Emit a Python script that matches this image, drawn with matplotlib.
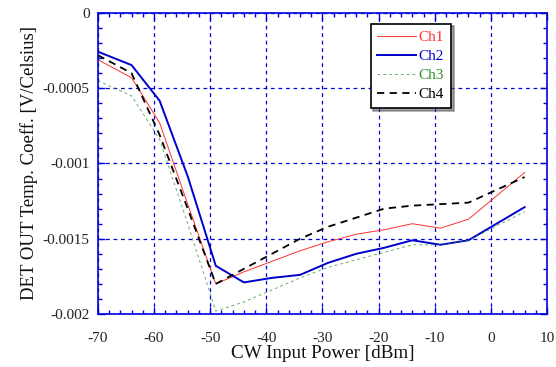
import numpy as np
import matplotlib
matplotlib.use('Agg')
import matplotlib.pyplot as plt
from matplotlib.ticker import MultipleLocator, FuncFormatter

plt.rcParams['font.family'] = ['Liberation Serif', 'DejaVu Serif']
plt.rcParams['axes.unicode_minus'] = False

# input power [dBm]
power = [-70, -64, -59, -54, -49, -44, -39, -34, -29, -24, -19, -14, -9, -4, 6]

ch1 = [-0.00031, -0.00043, -0.00073, -0.00127, -0.00180, -0.00172, -0.00165, -0.00158,
       -0.00152, -0.00147, -0.00144, -0.00140, -0.00143, -0.00137, -0.00106]
ch2 = [-0.000257, -0.000346, -0.000583, -0.001085, -0.00168, -0.00179, -0.00176, -0.00174,
       -0.00166, -0.00160, -0.00156, -0.00151, -0.00154, -0.00151, -0.00129]
ch3 = [-0.00045, -0.00055, -0.00084, -0.00140, -0.00198, -0.00192, -0.00184, -0.00176,
       -0.00169, -0.00164, -0.00159, -0.00154, -0.00154, -0.00151, -0.00132]
ch4 = [-0.00028, -0.00040, -0.00081, -0.00130, -0.00180, -0.00170, -0.00160, -0.00150,
       -0.00142, -0.00136, -0.00130, -0.00128, -0.00127, -0.00126, -0.00109]

blue = '#0000dd'

fig = plt.figure(figsize=(5.56, 3.67), dpi=100)
ax = fig.add_axes([0.176, 0.1444, 0.808, 0.8202])

ax.plot(power, ch1, c='#ff3030', linewidth=0.7, label='Ch1')
ax.plot(power, ch2, c='#0000cc', linewidth=1.4, label='Ch2')
ax.plot(power, ch3, c='#2e8b2e', linewidth=0.7, linestyle=(0, (3, 3)), alpha=0.7, label='Ch3')
ax.plot(power, ch4, c='k', linewidth=1.3, linestyle=(0, (4, 3)), label='Ch4')

ax.set_xlim(-70, 10)
ax.set_ylim(-0.002, 0)
ax.xaxis.set_major_locator(MultipleLocator(10))
ax.xaxis.set_minor_locator(MultipleLocator(2))
ax.yaxis.set_major_locator(MultipleLocator(0.0005))
ax.yaxis.set_minor_locator(MultipleLocator(0.0001))
ax.yaxis.set_major_formatter(FuncFormatter(lambda v, p: '%g' % round(v, 6)))

for s in ax.spines.values():
    s.set_color(blue)
    s.set_linewidth(1.2)
ax.tick_params(which='both', direction='in', top=True, right=True, colors=blue,
               labelcolor='#222222', labelsize=11)
ax.tick_params(which='major', length=5, width=1)
ax.tick_params(which='minor', length=3, width=1)
ax.tick_params(axis='x', pad=13)
ax.tick_params(axis='y', pad=6)

ax.grid(True, which='major', color=blue, linestyle=(0, (3, 3)), linewidth=0.9)

ax.set_xlabel('CW Input Power [dBm]', fontsize=13.8, color='#111111', labelpad=0)
ax.set_ylabel('DET OUT Temp. Coeff. [V/Celsius]', fontsize=13.5, color='#111111', labelpad=3)

leg = ax.legend(loc='upper left', bbox_to_anchor=(0.59, 0.99), fancybox=False, shadow=True,
                edgecolor='black', framealpha=1, fontsize=11, labelcolor='linecolor',
                handlelength=2.5, borderpad=0.45, labelspacing=0.35, handletextpad=0.2)
leg.get_frame().set_linewidth(1.2)
for t in leg.get_texts():
    t.set_alpha(1)

fig.savefig('out.png', dpi=100)
